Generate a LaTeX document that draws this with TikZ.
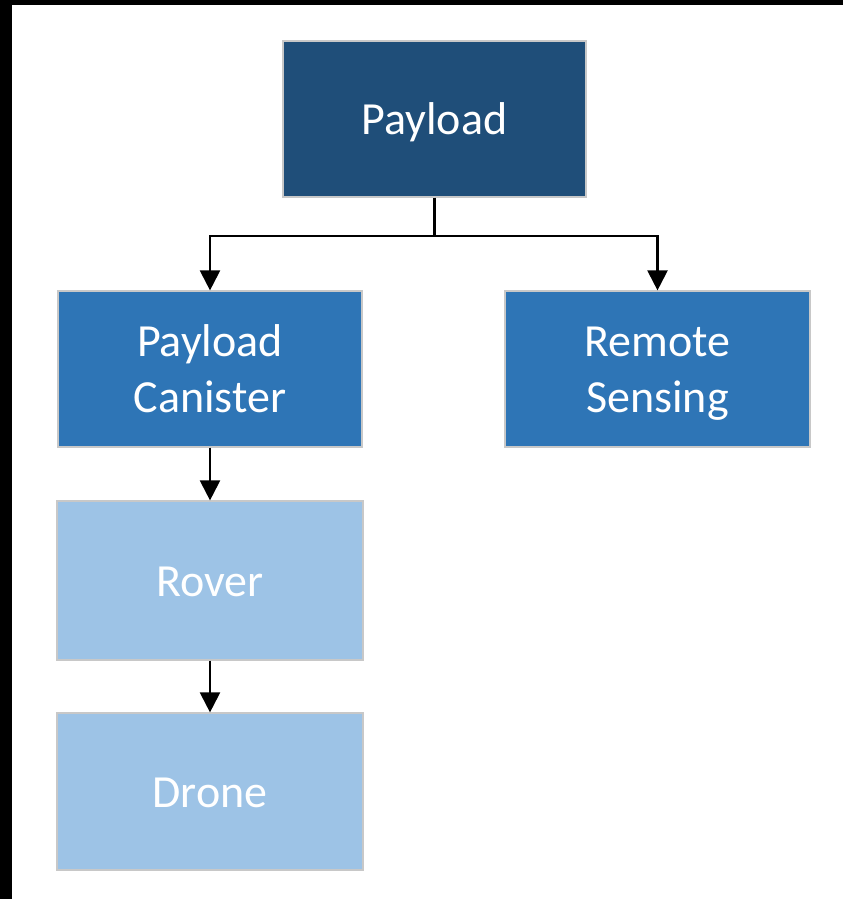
\documentclass[tikz,border=0pt]{standalone}
\usepackage{fontspec}
\setmainfont{Carlito}
\usetikzlibrary{arrows.meta}
\definecolor{topblue}{HTML}{1F4E79}
\definecolor{midblue}{HTML}{2E75B6}
\definecolor{lightblue}{HTML}{9DC3E6}
\definecolor{edgegray}{HTML}{C8C8C8}
% centred label text, set a little below the box centre
\newcommand{\boxlabel}[1]{\raisebox{-4.5pt}[\height][\depth]{\begin{tabular}{@{}c@{}}#1\end{tabular}}}
\tikzset{
  box/.style={draw=edgegray, line width=1.2pt, minimum width=304pt, minimum height=156pt,
    inner sep=0pt, text=white, align=center,
    font=\fontsize{46}{56}\selectfont},
  link/.style={line width=2.2pt, -{Triangle[length=20pt, width=20pt]}},
  trunk/.style={line width=2.2pt}
}
\begin{document}
\begin{tikzpicture}[x=1pt, y=-1pt]
  \useasboundingbox (0,0) rectangle (843,899);
  % frame bands along the top and left edges
  \fill[black] (0,0) rectangle (843,5);
  \fill[black] (0,0) rectangle (12,899);

  \node[box, fill=topblue, minimum width=303pt] (payload) at (434.5,119) {\boxlabel{Payload}};
  \node[box, fill=midblue] (canister) at (210,369) {\boxlabel{Payload\\Canister}};
  \node[box, fill=midblue, minimum width=305pt] (remote) at (657.5,369) {\boxlabel{Remote\\Sensing}};
  \node[box, fill=lightblue, minimum width=306pt, minimum height=159pt] (rover) at (210,580.5) {\boxlabel{Rover}};
  \node[box, fill=lightblue, minimum width=306pt, minimum height=157pt] (drone) at (210,791.5) {\boxlabel{Drone}};

  \draw[trunk] (payload.south) -- (payload.south |- 0,236) coordinate (hub);
  \draw[link] (hub) -| (canister.north);
  \draw[link] (hub) -| (remote.north);
  \draw[link] (canister.south) -- (rover.north);
  \draw[link] (rover.south) -- (drone.north);
\end{tikzpicture}
\end{document}
